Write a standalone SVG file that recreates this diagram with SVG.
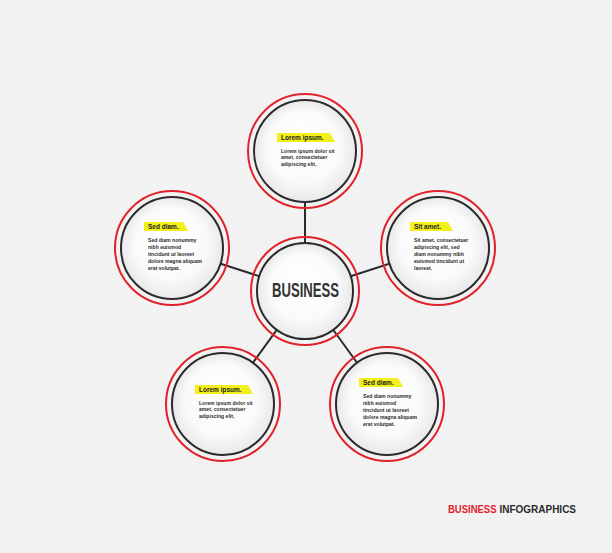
<svg xmlns="http://www.w3.org/2000/svg" width="612" height="553" viewBox="0 0 612 553">
<defs>
<radialGradient id="fillG" cx="50%" cy="50%" r="50%" fx="45%" fy="35%">
<stop offset="0" stop-color="#ffffff"/>
<stop offset="0.7" stop-color="#fafafa"/>
<stop offset="1" stop-color="#e9e9e9"/>
</radialGradient>
</defs>
<style>
.red{fill:none;stroke:#e0222a;stroke-width:2}
.blk{fill:url(#fillG);stroke:#2b2b2b;stroke-width:2}
.con{stroke:#2b2b2b;stroke-width:2}
.hl{fill:#f3ef1a}
.lbl{font-family:"Liberation Sans",Arial,sans-serif;font-weight:bold;font-size:6.5px;fill:#222}
.body{font-family:"Liberation Sans",Arial,sans-serif;font-weight:bold;font-size:5.1px;fill:#2a2a2a}
.big{font-family:"Liberation Sans",Arial,sans-serif;font-weight:bold;font-size:21px;fill:#333}
.ft{font-family:"Liberation Sans",Arial,sans-serif;font-weight:bold;font-size:10.7px}
</style>
<rect width="612" height="553" fill="#f2f2f2"/>
<g id="connectors">
<line class="con" x1="305" y1="291" x2="305" y2="151"/>
<line class="con" x1="305" y1="291" x2="438" y2="248"/>
<line class="con" x1="305" y1="291" x2="172" y2="248"/>
<line class="con" x1="305" y1="291" x2="387" y2="404"/>
<line class="con" x1="305" y1="291" x2="223" y2="404"/>
</g>
<g id="center">
<circle class="blk" cx="305" cy="291" r="48"/>
<circle class="red" cx="305" cy="291" r="54"/>
<text class="big" x="272" y="297" textLength="67" lengthAdjust="spacingAndGlyphs">BUSINESS</text>
</g>
<g id="node-top">
<circle class="blk" cx="305" cy="151" r="51"/>
<circle class="red" cx="305" cy="151" r="57"/>
<polygon class="hl" points="277,133 330,133 335,142 277,142"/>
<text class="lbl" x="281" y="140">Lorem ipsum.</text>
<text class="body" x="281" y="152.5">Lorem ipsum dolor sit</text>
<text class="body" x="281" y="159.2">amet, consectetuer</text>
<text class="body" x="281" y="165.9">adipiscing elit,</text>
</g>
<g id="node-left">
<circle class="blk" cx="172" cy="248" r="51"/>
<circle class="red" cx="172" cy="248" r="57"/>
<polygon class="hl" points="144,222 183,222 188,231 144,231"/>
<text class="lbl" x="148" y="229">Sed diam.</text>
<text class="body" x="148" y="241.5">Sed diam nonummy</text>
<text class="body" x="148" y="248.6">nibh euismod</text>
<text class="body" x="148" y="255.7">tincidunt ut laoreet</text>
<text class="body" x="148" y="262.8">dolore magna aliquam</text>
<text class="body" x="148" y="269.9">erat volutpat.</text>
</g>
<g id="node-right">
<circle class="blk" cx="438" cy="248" r="51"/>
<circle class="red" cx="438" cy="248" r="57"/>
<polygon class="hl" points="410,222 448,222 453,231 410,231"/>
<text class="lbl" x="414" y="229">Sit amet.</text>
<text class="body" x="414" y="241.5">Sit amet, consectetuer</text>
<text class="body" x="414" y="248.6">adipiscing elit, sed</text>
<text class="body" x="414" y="255.7">diam nonummy nibh</text>
<text class="body" x="414" y="262.8">euismod tincidunt ut</text>
<text class="body" x="414" y="269.9">laoreet.</text>
</g>
<g id="node-bottom-left">
<circle class="blk" cx="223" cy="404" r="51"/>
<circle class="red" cx="223" cy="404" r="57"/>
<polygon class="hl" points="195,385 248,385 253,394 195,394"/>
<text class="lbl" x="199" y="392">Lorem ipsum.</text>
<text class="body" x="199" y="404.5">Lorem ipsum dolor sit</text>
<text class="body" x="199" y="411.2">amet, consectetuer</text>
<text class="body" x="199" y="417.9">adipiscing elit,</text>
</g>
<g id="node-bottom-right">
<circle class="blk" cx="387" cy="404" r="51"/>
<circle class="red" cx="387" cy="404" r="57"/>
<polygon class="hl" points="359,378 398,378 403,387 359,387"/>
<text class="lbl" x="363" y="385">Sed diam.</text>
<text class="body" x="363" y="397.5">Sed diam nonummy</text>
<text class="body" x="363" y="404.6">nibh euismod</text>
<text class="body" x="363" y="411.7">tincidunt ut laoreet</text>
<text class="body" x="363" y="418.8">dolore magna aliquam</text>
<text class="body" x="363" y="425.9">erat volutpat.</text>
</g>
<g id="footer">
<text class="ft" x="448" y="512.5" fill="#e0222a" textLength="48.5" lengthAdjust="spacingAndGlyphs">BUSINESS</text>
<text class="ft" x="499.5" y="512.5" fill="#2a2a2a" textLength="76.5" lengthAdjust="spacingAndGlyphs">INFOGRAPHICS</text>
</g>
</svg>
